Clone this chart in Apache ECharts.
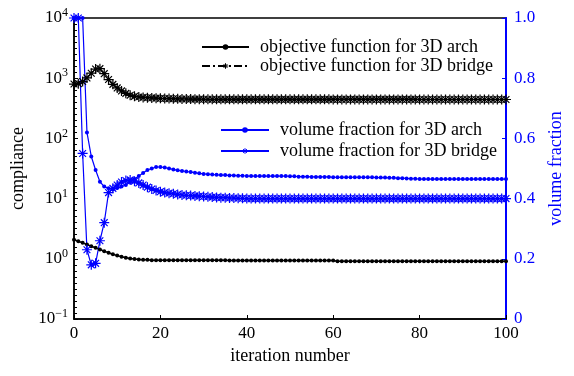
<!DOCTYPE html>
<html>
<head>
<meta charset="utf-8">
<script src="https://cdn.jsdelivr.net/npm/echarts@6/dist/echarts.min.js"></script>
<style>
  html, body { margin: 0; padding: 0; background: #fff; }
  #chart { width: 574px; height: 376px; }
</style>
</head>
<body>
<div id="chart"></div>
<script>
// iteration index 0..100
const iterations = Array.from({ length: 101 }, (_, i) => i)

// compliance (log scale, left axis)
const objArch = [
  2.08, 1.96, 1.84, 1.72, 1.62, 1.52, 1.43, 1.34, 1.26, 1.19,
  1.13, 1.08, 1.04, 1.01, 0.99, 0.97, 0.96, 0.96, 0.95, 0.95,
  0.95, 0.95, 0.95, 0.95, 0.95, 0.95, 0.95, 0.95, 0.95, 0.95,
  0.95, 0.95, 0.95, 0.95, 0.95, 0.95, 0.94, 0.94, 0.94, 0.94,
  0.94, 0.94, 0.94, 0.94, 0.94, 0.94, 0.94, 0.94, 0.94, 0.94,
  0.94, 0.94, 0.94, 0.94, 0.94, 0.94, 0.94, 0.94, 0.94, 0.94,
  0.94, 0.91, 0.91, 0.91, 0.91, 0.91, 0.91, 0.91, 0.91, 0.91,
  0.91, 0.91, 0.91, 0.91, 0.91, 0.91, 0.91, 0.91, 0.91, 0.91,
  0.91, 0.91, 0.91, 0.91, 0.91, 0.91, 0.91, 0.91, 0.91, 0.91,
  0.91, 0.91, 0.91, 0.91, 0.91, 0.91, 0.91, 0.91, 0.91, 0.91,
  0.91
]
const objBridge = [
  800, 812, 880, 1010, 1210, 1420, 1440, 1190, 950, 790,
  690, 615, 560, 520, 500, 488, 480, 474, 470, 466,
  463, 460, 458, 456, 454, 452, 451, 450, 449, 448,
  447, 447, 446, 446, 446, 445, 445, 445, 445, 445,
  445, 445, 445, 445, 445, 445, 445, 445, 445, 445,
  445, 445, 445, 445, 445, 445, 445, 445, 445, 445,
  444, 444, 444, 444, 444, 444, 444, 444, 444, 444,
  444, 444, 444, 444, 444, 444, 444, 444, 444, 444,
  443, 443, 443, 443, 443, 443, 443, 443, 443, 443,
  443, 443, 443, 443, 443, 443, 443, 443, 443, 443,
  443
]

// volume fraction (right axis)
const vfArch = [
  1.0, 1.0, 1.0, 0.62, 0.54, 0.495, 0.456, 0.44, 0.434, 0.43,
  0.435, 0.44, 0.445, 0.455, 0.465, 0.475, 0.485, 0.495, 0.50, 0.505,
  0.505, 0.503, 0.50, 0.497, 0.494, 0.492, 0.49, 0.488, 0.486, 0.484,
  0.482, 0.481, 0.48, 0.479, 0.478, 0.478, 0.477, 0.477, 0.476, 0.476,
  0.475, 0.475, 0.475, 0.475, 0.475, 0.475, 0.475, 0.475, 0.475, 0.475,
  0.474, 0.474, 0.473, 0.473, 0.473, 0.472, 0.472, 0.472, 0.472, 0.472,
  0.471, 0.471, 0.471, 0.471, 0.471, 0.471, 0.471, 0.471, 0.471, 0.471,
  0.47, 0.47, 0.47, 0.469, 0.469, 0.468, 0.468, 0.467, 0.466, 0.466,
  0.465, 0.465, 0.465, 0.465, 0.465, 0.465, 0.465, 0.465, 0.465, 0.465,
  0.465, 0.465, 0.465, 0.465, 0.465, 0.465, 0.465, 0.465, 0.465, 0.465,
  0.465
]
const vfBridge = [
  1.0, 1.0, 0.55, 0.23, 0.18, 0.185, 0.26, 0.32, 0.42, 0.434,
  0.445, 0.455, 0.46, 0.462, 0.458, 0.452, 0.445, 0.438, 0.432, 0.427,
  0.423, 0.42, 0.418, 0.416, 0.414, 0.412, 0.411, 0.41, 0.409, 0.408,
  0.407, 0.406, 0.405, 0.404, 0.403, 0.403, 0.402, 0.402, 0.401, 0.401,
  0.40, 0.40, 0.40, 0.40, 0.40, 0.40, 0.40, 0.40, 0.40, 0.40,
  0.40, 0.40, 0.40, 0.40, 0.40, 0.40, 0.40, 0.40, 0.40, 0.40,
  0.40, 0.40, 0.40, 0.40, 0.40, 0.40, 0.40, 0.40, 0.40, 0.40,
  0.40, 0.40, 0.40, 0.40, 0.40, 0.40, 0.40, 0.40, 0.40, 0.40,
  0.40, 0.40, 0.40, 0.40, 0.40, 0.40, 0.40, 0.40, 0.40, 0.40,
  0.40, 0.40, 0.40, 0.40, 0.40, 0.40, 0.40, 0.40, 0.40, 0.40,
  0.40
]

const names = [
  'objective function for 3D arch',
  'objective function for 3D bridge',
  'volume fraction for 3D arch',
  'volume fraction for 3D bridge',
]

const FONT = 'Liberation Serif'
const BLUE = '#0000ff'
// asterisk marker, like matlab '*'
const STAR = 'path://M5,0L5,10M0,5L10,5M1.6,1.6L8.4,8.4M1.6,8.4L8.4,1.6'

const pairs = arr => arr.map((v, i) => [iterations[i], v])

const chart = echarts.init(document.getElementById('chart'), null, { renderer: 'canvas' })

const legendText = { fontFamily: FONT, fontSize: 18, color: '#000', padding: [0, 0, 0, 6] }

chart.setOption({
  animation: false,
  backgroundColor: '#fff',
  textStyle: { fontFamily: FONT },
  grid: {
    left: 74, right: 68, top: 18, bottom: 57,
    show: true, borderColor: '#000', borderWidth: 1.5,
  },
  legend: [
    {
      data: [names[0], names[1]],
      orient: 'vertical',
      left: 201, top: 38, padding: 0,
      itemWidth: 47, itemHeight: 7, itemGap: 1,
      itemStyle: { borderWidth: 1 },
      textStyle: legendText,
    },
    {
      data: [names[2], names[3]],
      orient: 'vertical',
      left: 220, top: 121, padding: 0,
      itemWidth: 48, itemHeight: 7, itemGap: 3,
      itemStyle: { borderWidth: 1 },
      textStyle: legendText,
    },
  ],
  xAxis: {
    type: 'value',
    min: 0, max: 100, interval: 20,
    name: 'iteration number',
    nameLocation: 'middle', nameGap: 25,
    nameTextStyle: { fontFamily: FONT, fontSize: 18, color: '#000' },
    axisLine: { lineStyle: { color: '#000', width: 1.5 } },
    axisTick: { inside: true, length: 4, lineStyle: { color: '#000' } },
    axisLabel: { fontFamily: FONT, fontSize: 17, color: '#000', margin: 6 },
    splitLine: { show: false },
  },
  yAxis: [
    {
      type: 'log', logBase: 10,
      min: 0.1, max: 10000, splitNumber: 5,
      position: 'left',
      name: 'compliance',
      nameLocation: 'middle', nameGap: 44, nameRotate: 90,
      nameTextStyle: { fontFamily: FONT, fontSize: 18, color: '#000' },
      axisLine: { lineStyle: { color: '#000', width: 1.5 } },
      axisTick: { inside: true, length: 4, lineStyle: { color: '#000' } },
      axisLabel: {
        color: '#000', margin: 6,
        formatter: v => '{b|10}{s|' + String(Math.round(Math.log10(v))).replace('-', '\u2212') + '}',
        rich: {
          b: { fontFamily: FONT, fontSize: 17, color: '#000' },
          s: { fontFamily: FONT, fontSize: 12, color: '#000', padding: [0, 0, 10, 0] },
        },
      },
      splitLine: { show: false },
    },
    {
      type: 'value',
      min: 0, max: 1, interval: 0.2,
      position: 'right',
      name: 'volume fraction',
      nameLocation: 'middle', nameGap: 41, nameRotate: 90,
      nameTextStyle: { fontFamily: FONT, fontSize: 18, color: BLUE },
      axisLine: { show: true, lineStyle: { color: BLUE, width: 2 } },
      axisTick: { inside: true, length: 4, lineStyle: { color: BLUE } },
      axisLabel: {
        fontFamily: FONT, fontSize: 17, color: BLUE, margin: 8,
        formatter: v => (v === 0 ? '0' : v.toFixed(1)),
      },
      splitLine: { show: false },
    },
    {
      // dense small ticks along the left axis
      type: 'value',
      min: 0, max: 50, interval: 1,
      position: 'left',
      axisLine: { show: false },
      axisTick: { inside: true, length: 3, lineStyle: { color: '#000' } },
      axisLabel: { show: false },
      splitLine: { show: false },
    },
  ],
  series: [
    {
      name: names[0],
      type: 'line',
      yAxisIndex: 0,
      data: pairs(objArch),
      lineStyle: { color: '#000', width: 1.5 },
      symbol: 'circle', symbolSize: 4,
      itemStyle: { color: '#000', borderWidth: 0 },
    },
    {
      name: names[1],
      type: 'line',
      yAxisIndex: 0,
      data: pairs(objBridge),
      lineStyle: { color: '#000', width: 1.2, type: [8, 3, 2, 3] },
      symbol: STAR, symbolSize: 10,
      itemStyle: { color: '#000', borderColor: '#000', borderWidth: 1.2 },
    },
    {
      name: names[2],
      type: 'line',
      yAxisIndex: 1,
      data: pairs(vfArch),
      lineStyle: { color: BLUE, width: 1.2 },
      symbol: 'circle', symbolSize: 4,
      itemStyle: { color: BLUE, borderWidth: 0 },
    },
    {
      name: names[3],
      type: 'line',
      yAxisIndex: 1,
      data: pairs(vfBridge),
      lineStyle: { color: BLUE, width: 1.2 },
      symbol: STAR, symbolSize: 10,
      itemStyle: { color: BLUE, borderColor: BLUE, borderWidth: 1.2 },
    },
  ],
})
</script>
</body>
</html>
